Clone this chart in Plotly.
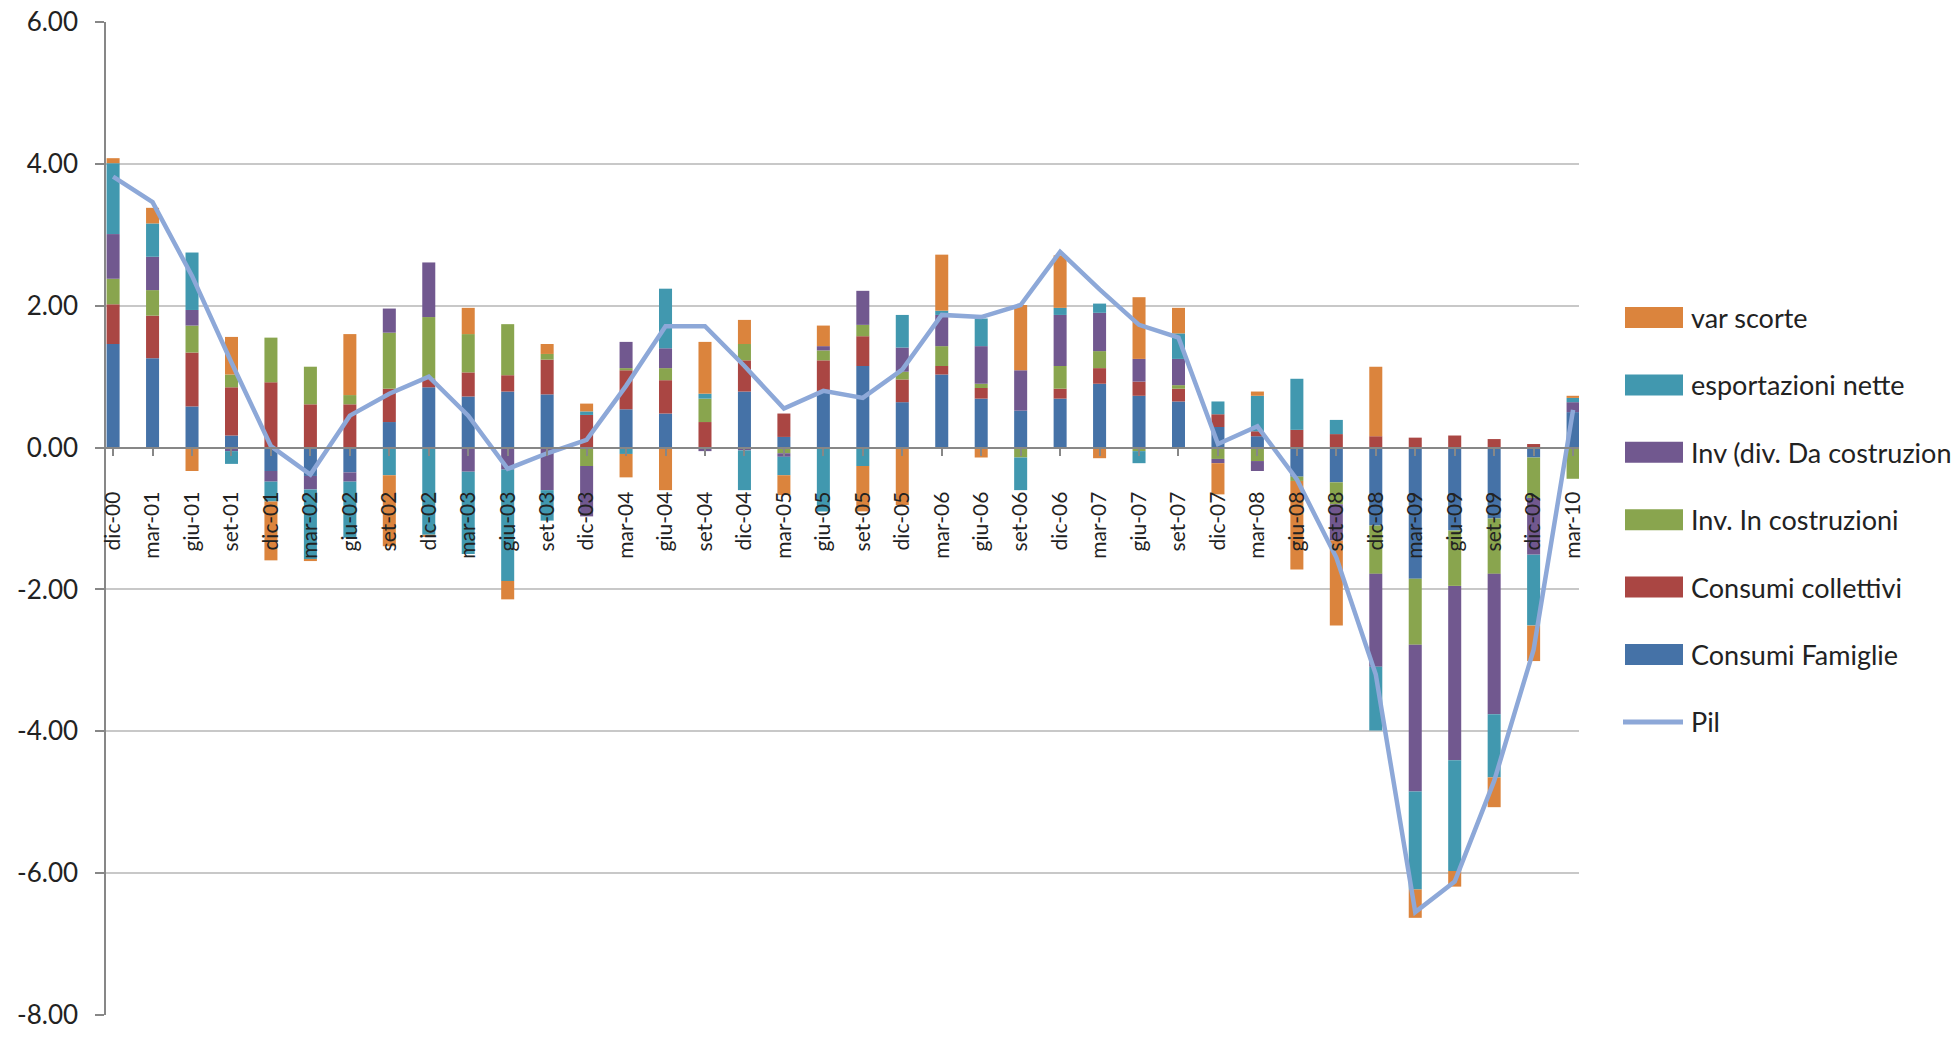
import plotly.graph_objects as go

# Quarterly contributions to GDP growth (percentage points) and GDP growth (Pil)
quarters = [
    "dic-00", "mar-01", "giu-01", "set-01", "dic-01", "mar-02", "giu-02", "set-02",
    "dic-02", "mar-03", "giu-03", "set-03", "dic-03", "mar-04", "giu-04", "set-04",
    "dic-04", "mar-05", "giu-05", "set-05", "dic-05", "mar-06", "giu-06", "set-06",
    "dic-06", "mar-07", "giu-07", "set-07", "dic-07", "mar-08", "giu-08", "set-08",
    "dic-08", "mar-09", "giu-09", "set-09", "dic-09", "mar-10",
]

consumi_famiglie = [
    1.46, 1.26, 0.58, 0.17, -0.33, -0.40, -0.35, 0.36,
    0.85, 0.72, 0.79, 0.75, 0.00, 0.54, 0.48, 0.00,
    0.79, 0.15, 0.78, 1.15, 0.64, 1.03, 0.69, 0.52,
    0.69, 0.90, 0.73, 0.65, 0.29, 0.16, -0.41, -0.49,
    -1.10, -1.85, -1.17, -1.00, -0.14, 0.50,
]
consumi_collettivi = [
    0.56, 0.60, 0.76, 0.68, 0.92, 0.61, 0.61, 0.47,
    0.12, 0.34, 0.23, 0.49, 0.46, 0.55, 0.47, 0.36,
    0.44, 0.33, 0.45, 0.42, 0.32, 0.12, 0.15, 0.00,
    0.14, 0.22, 0.20, 0.18, 0.18, 0.07, 0.25, 0.19,
    0.16, 0.14, 0.17, 0.12, 0.05, -0.02,
]
inv_costruzioni = [
    0.36, 0.36, 0.38, 0.18, 0.63, 0.53, 0.13, 0.79,
    0.87, 0.54, 0.72, 0.08, -0.26, 0.03, 0.17, 0.33,
    0.23, -0.08, 0.14, 0.16, 0.11, 0.28, 0.06, -0.14,
    0.32, 0.24, -0.05, 0.05, -0.16, -0.19, -0.06, -0.31,
    -0.68, -0.93, -0.78, -0.78, -0.57, -0.42,
]
inv_altro = [
    0.63, 0.47, 0.22, -0.05, -0.15, -0.19, -0.13, 0.34,
    0.77, -0.34, -0.31, -0.60, -0.71, 0.37, 0.28, -0.05,
    -0.04, -0.05, 0.06, 0.48, 0.34, 0.44, 0.53, 0.57,
    0.72, 0.54, 0.32, 0.37, -0.06, -0.14, 0.00, -0.51,
    -1.31, -2.07, -2.46, -1.98, -0.80, 0.14,
]
esportazioni_nette = [
    1.00, 0.47, 0.81, -0.18, -0.28, -0.98, -0.79, -0.39,
    -1.23, -1.16, -1.57, -0.43, 0.05, -0.09, 0.84, 0.07,
    -0.56, -0.26, -0.90, -0.26, 0.46, 0.06, 0.39, -0.46,
    0.10, 0.13, -0.17, 0.36, 0.18, 0.50, 0.72, 0.20,
    -0.90, -1.38, -1.56, -0.89, -1.00, 0.06,
]
var_scorte = [
    0.07, 0.22, -0.33, 0.53, -0.83, -0.03, 0.86, -1.00,
    -0.03, 0.37, -0.26, 0.14, 0.11, -0.33, -0.60, 0.73,
    0.34, -0.28, 0.29, -0.64, -0.81, 0.79, -0.14, 0.92,
    0.74, -0.15, 0.87, 0.36, -0.44, 0.06, -1.25, -1.20,
    0.98, -0.40, -0.22, -0.42, -0.50, 0.03,
]
pil = [
    3.82, 3.46, 2.42, 1.20, 0.02, -0.38, 0.45, 0.76,
    1.00, 0.45, -0.30, -0.08, 0.11, 0.87, 1.71, 1.71,
    1.15, 0.55, 0.80, 0.70, 1.10, 1.87, 1.84, 2.01,
    2.76, 2.23, 1.73, 1.55, 0.05, 0.30, -0.45, -1.55,
    -3.20, -6.55, -6.12, -4.70, -2.85, 0.53,
]

y_ticks = [-8, -6, -4, -2, 0, 2, 4, 6]

# stacking order, bottom to top
series = [
    ("Consumi Famiglie", consumi_famiglie, "#4572A7"),
    ("Consumi collettivi", consumi_collettivi, "#AA4643"),
    ("Inv. In costruzioni", inv_costruzioni, "#89A54E"),
    ("Inv (div. Da costruzioni)", inv_altro, "#71588F"),
    ("esportazioni nette", esportazioni_nette, "#4198AF"),
    ("var scorte", var_scorte, "#DB843D"),
]
PIL_NAME = "Pil"
PIL_COLOR = "#8DA8D8"

FONT = "Lato, Open Sans, sans-serif"
TEXT_COLOR = "#222222"
AXIS_COLOR = "#878787"
GRID_COLOR = "#C8C8C8"

W, H = 1952, 1055
M_L, M_R, M_T, M_B = 106, 373, 22, 40
Y_MIN, Y_MAX = min(y_ticks), max(y_ticks)

fig = go.Figure()
for name, vals, color in series:
    fig.add_trace(go.Bar(
        x=quarters, y=vals, name=name, width=0.33,
        marker=dict(color=color, line=dict(width=0)),
        showlegend=False,
    ))
fig.add_trace(go.Scatter(
    x=quarters, y=pil, name=PIL_NAME, mode="lines",
    line=dict(color=PIL_COLOR, width=4.5),
    showlegend=False,
))

# legend drawn as a column of wide swatches to the right of the plot
plot_w = W - M_L - M_R
plot_h = H - M_T - M_B


def px_to_paper_x(px):
    return (px - M_L) / plot_w


def px_to_paper_y(py):
    return (H - M_B - py) / plot_h


legend_items = [(n, c) for n, _, c in reversed(series)] + [(PIL_NAME, PIL_COLOR)]
row0, row_step = 317.5, 67.4
sw_x0, sw_x1, txt_x = 1625, 1683, 1689
shapes, annotations = [], []
for i, (name, color) in enumerate(legend_items):
    cy = row0 + i * row_step
    if name == PIL_NAME:
        shapes.append(dict(
            type="line", xref="paper", yref="paper",
            x0=px_to_paper_x(sw_x0 - 2), x1=px_to_paper_x(sw_x1),
            y0=px_to_paper_y(cy), y1=px_to_paper_y(cy),
            line=dict(color=color, width=5),
        ))
    else:
        shapes.append(dict(
            type="rect", xref="paper", yref="paper",
            x0=px_to_paper_x(sw_x0), x1=px_to_paper_x(sw_x1),
            y0=px_to_paper_y(cy - 10.5), y1=px_to_paper_y(cy + 10.5),
            fillcolor=color, line=dict(width=0),
        ))
    annotations.append(dict(
        text=name, xref="paper", yref="paper",
        x=px_to_paper_x(txt_x), y=px_to_paper_y(cy),
        xanchor="left", yanchor="middle", showarrow=False,
        font=dict(family=FONT, size=27, color=TEXT_COLOR),
    ))

fig.update_layout(
    width=W, height=H,
    margin=dict(l=M_L, r=M_R, t=M_T, b=M_B, autoexpand=False),
    barmode="relative",
    plot_bgcolor="white", paper_bgcolor="white",
    font=dict(family=FONT, color=TEXT_COLOR),
    showlegend=False,
    shapes=shapes,
    annotations=annotations,
    xaxis=dict(
        type="category",
        range=[-0.18, len(quarters) - 1 + 0.15],
        anchor="free",
        position=(0 - Y_MIN) / (Y_MAX - Y_MIN),
        showline=True, linecolor=AXIS_COLOR, linewidth=1.5,
        ticks="outside", ticklen=8, tickcolor=AXIS_COLOR, tickwidth=1.5,
        tickangle=-90,
        ticksuffix="\u00a0" * 5,
        tickfont=dict(family=FONT, size=21, color=TEXT_COLOR),
        showgrid=False, zeroline=False, automargin=False,
    ),
    yaxis=dict(
        range=[Y_MIN, Y_MAX],
        tickmode="array", tickvals=y_ticks,
        ticktext=[f"{v:.2f}" for v in y_ticks],
        showline=True, linecolor=AXIS_COLOR, linewidth=1.5,
        ticks="outside", ticklen=9, tickcolor=AXIS_COLOR, tickwidth=1.5,
        tickfont=dict(family=FONT, size=26, color=TEXT_COLOR),
        ticklabelstandoff=12,
        showgrid=True, gridcolor=GRID_COLOR, gridwidth=1.5,
        zeroline=False, automargin=False,
    ),
)

fig.write_html("out.html")
